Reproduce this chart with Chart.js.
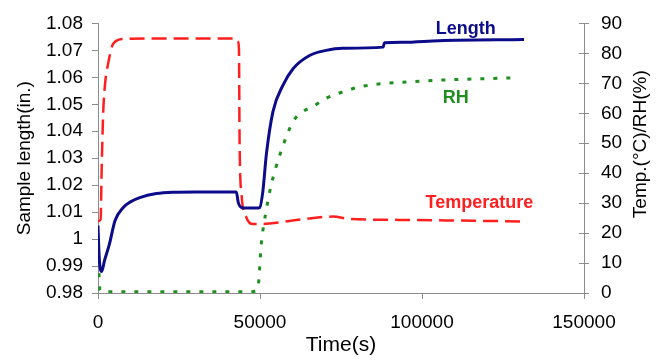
<!DOCTYPE html>
<html>
<head>
<meta charset="utf-8">
<script src="https://cdn.jsdelivr.net/npm/chart.js@4/dist/chart.umd.min.js"></script>
<style>
  html, body { margin: 0; padding: 0; background: #fff; }
  #wrap { width: 663px; height: 360px; }
</style>
</head>
<body>
<div id="wrap"><canvas id="myChart" width="663" height="360"></canvas></div>
<script>
// sample length (in.), left axis
const lengthTime = [0, 300, 700, 1140, 2000, 3500, 5240, 7800, 10000, 12900, 18000, 23100, 30000, 42700, 43300, 44500, 46000, 48900, 49900, 50900, 51960, 54000, 57100, 60200, 65300, 70400, 75500, 88000, 88400, 94000, 105300, 131500];
const lengthVal  = [1.005, 0.995, 0.989, 0.988, 0.992, 0.998, 1.0068, 1.0117, 1.0138, 1.0154, 1.0169, 1.0174, 1.0175, 1.0175, 1.0135, 1.0116, 1.0115, 1.0115, 1.0117, 1.0179, 1.0314, 1.0473, 1.0571, 1.0632, 1.0681, 1.0700, 1.0708, 1.0712, 1.0728, 1.0730, 1.0736, 1.0740];

// temperature (C), right axis
const tempTime = [0, 800, 1140, 1600, 2150, 3200, 4700, 7800, 20000, 42700, 43200, 43500, 43700, 44300, 45800, 47800, 52000, 60100, 72500, 77600, 93000, 131000];
const tempVal  = [24, 24.5, 41.8, 60, 69.4, 77, 83.2, 84.8, 85, 85, 84, 81.5, 50.6, 33, 25.2, 23, 23.1, 24.2, 25.5, 24.7, 24.4, 23.9];

// relative humidity (%), right axis
const rhTime = [0, 300, 600, 1500, 20000, 46800, 48500, 49400, 50400, 51900, 53500, 56000, 60200, 63300, 66300, 70400, 76600, 80700, 87900, 96100, 104300, 130000];
const rhVal  = [15.3, 6.6, 1, 0.4, 0.4, 0.4, 0.6, 2, 16.4, 27.5, 36.3, 45.7, 57.2, 60.6, 62.2, 65, 67.5, 68.8, 69.9, 70.5, 71.0, 71.9];

const xTicks = [0, 50000, 100000, 150000];

// series labels written inside the plot: [text, time, value, axis]
const seriesLabels = [
  ['Length', 113500, 1.078, 'y'],
  ['RH', 110400, 65, 'y2'],
  ['Temperature', 117700, 30, 'y2']
];

const navy = '#0c0c8a';
const red = '#ff1f1f';
const green = '#1f8f1f';
const axisGray = '#8c8c8c';
const fontFamily = '"Liberation Sans", Arial, sans-serif';

const toPoints = (ts, vs) => ts.map((t, i) => ({ x: t, y: vs[i] }));

const labelPlugin = {
  id: 'labelPlugin',
  afterDraw(chart) {
    const ctx = chart.ctx;
    const xs = chart.scales.x;
    const y2 = chart.scales.y2;
    ctx.save();
    // inner half of the right axis ticks
    ctx.strokeStyle = axisGray;
    ctx.lineWidth = 1;
    y2.ticks.forEach(tk => {
      const py = Math.round(y2.getPixelForValue(tk.value)) + 0.5;
      ctx.beginPath();
      ctx.moveTo(y2.left - 5, py);
      ctx.lineTo(y2.left, py);
      ctx.stroke();
    });
    // series names
    const colors = { Length: navy, RH: green, Temperature: red };
    ctx.font = 'bold 18px ' + fontFamily;
    ctx.textAlign = 'center';
    ctx.textBaseline = 'middle';
    seriesLabels.forEach(([txt, t, v, ax]) => {
      ctx.fillStyle = colors[txt];
      ctx.fillText(txt, xs.getPixelForValue(t), chart.scales[ax].getPixelForValue(v));
    });
    // right axis title, read bottom to top
    ctx.fillStyle = '#000';
    ctx.font = '19px ' + fontFamily;
    ctx.translate(641, (y2.top + y2.bottom) / 2 - 14);
    ctx.rotate(-Math.PI / 2);
    ctx.fillText('Temp.(°C)/RH(%)', 0, 0);
    ctx.restore();
  }
};

const ctx = document.getElementById('myChart').getContext('2d');
new Chart(ctx, {
  type: 'line',
  data: {
    datasets: [
      {
        label: 'Length',
        data: toPoints(lengthTime, lengthVal),
        yAxisID: 'y',
        borderColor: navy,
        borderWidth: 3,
        pointRadius: 0,
        cubicInterpolationMode: 'monotone'
      },
      {
        label: 'Temperature',
        data: toPoints(tempTime, tempVal),
        yAxisID: 'y2',
        borderColor: red,
        borderWidth: 2.5,
        borderDash: [15, 7],
        pointRadius: 0,
        cubicInterpolationMode: 'monotone'
      },
      {
        label: 'RH',
        data: toPoints(rhTime, rhVal),
        yAxisID: 'y2',
        borderColor: green,
        borderWidth: 3,
        borderDash: [4, 9],
        pointRadius: 0,
        cubicInterpolationMode: 'monotone'
      }
    ]
  },
  options: {
    responsive: false,
    animation: false,
    layout: { padding: { top: 21, left: 0, right: 0, bottom: 0 } },
    plugins: { legend: { display: false }, tooltip: { enabled: false } },
    scales: {
      x: {
        type: 'linear',
        min: 0,
        max: 150000,
        afterBuildTicks: s => { s.ticks = xTicks.map(v => ({ value: v })); },
        afterFit: s => { s.height = 67; },
        grid: { drawOnChartArea: false, drawTicks: true, tickLength: 6, color: axisGray },
        border: { display: true, color: axisGray },
        ticks: { color: '#000', font: { family: fontFamily, size: 19 }, padding: 12, maxRotation: 0, callback: v => String(v) },
        title: { display: true, text: 'Time(s)', color: '#000', font: { family: fontFamily, size: 21 }, padding: { top: 0, bottom: 2 } }
      },
      y: {
        position: 'left',
        min: 0.98,
        max: 1.08,
        afterFit: s => { s.width = 98; },
        grid: { drawOnChartArea: false, drawTicks: true, tickLength: 6, color: axisGray },
        border: { display: true, color: axisGray },
        ticks: { stepSize: 0.01, color: '#000', font: { family: fontFamily, size: 19 }, padding: 9, callback: v => String(Number(v.toFixed(2))) },
        title: { display: true, text: 'Sample length(in.)', color: '#000', font: { family: fontFamily, size: 19 }, padding: { top: 13, bottom: 0 } }
      },
      y2: {
        position: 'right',
        min: 0,
        max: 90,
        afterFit: s => { s.width = 79; },
        grid: { drawOnChartArea: false, drawTicks: true, tickLength: 5, color: axisGray },
        border: { display: true, color: axisGray },
        ticks: { stepSize: 10, color: '#000', font: { family: fontFamily, size: 19 }, padding: 12 }
      }
    }
  },
  plugins: [labelPlugin]
});
</script>
</body>
</html>
